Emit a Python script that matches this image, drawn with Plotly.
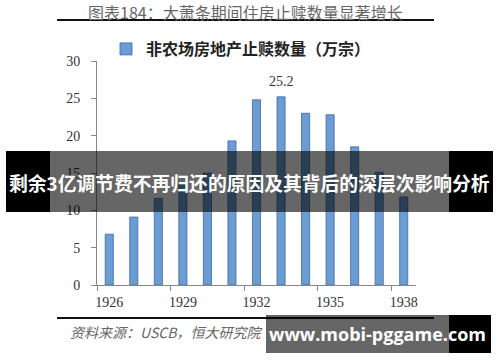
import plotly.graph_objects as go

# ---- data ----
years = [1926, 1927, 1928, 1929, 1930, 1931, 1932, 1933, 1934, 1935, 1936, 1937, 1938]
foreclosures = [6.8, 9.1, 11.6, 13.5, 15.0, 19.3, 24.8, 25.2, 23.0, 22.8, 18.5, 15.1, 11.8]
series_name = "非农场房地产止赎数量（万宗）"
title_text = "图表184：大萧条期间住房止赎数量显著增长"
source_text = "资料来源：USCB，恒大研究院"
banner_text = "剩余3亿调节费不再归还的原因及其背后的深层次影响分析"
watermark_text = "www.mobi-pggame.com"
label_ticks = years[::3]

# ---- layout geometry (pixels) ----
W, H = 500, 362
L, R, T, B = 97, 84, 61, 77
PW, PH = W - L - R, H - T - B


def px(x):
    return (x - L) / PW


def py(y):
    return (H - B - y) / PH


CJK = "Noto Sans CJK SC"
SERIF = "Liberation Serif"

fig = go.Figure()
fig.add_trace(go.Bar(
    x=years, y=foreclosures, name=series_name, width=0.33,
    marker=dict(color="#6b9dd3", line=dict(color="#3a6aa3", width=0.8)),
    showlegend=True,
))

imax = foreclosures.index(max(foreclosures))

shapes = [
    # title rule and bottom rule
    dict(type="line", xref="paper", yref="paper", x0=px(57), x1=px(434), y0=py(20), y1=py(20),
         line=dict(color="#111", width=2), layer="above"),
    dict(type="line", xref="paper", yref="paper", x0=px(57), x1=px(434), y0=py(318), y1=py(318),
         line=dict(color="#111", width=2), layer="above"),
    # banner overlay
    dict(type="rect", xref="paper", yref="paper", x0=px(6), x1=px(50), y0=py(212), y1=py(151),
         fillcolor="black", line=dict(width=0), layer="above"),
    dict(type="rect", xref="paper", yref="paper", x0=px(50), x1=px(449), y0=py(212), y1=py(151),
         fillcolor="rgba(0,0,0,0.6)", line=dict(width=0), layer="above"),
    dict(type="rect", xref="paper", yref="paper", x0=px(449), x1=px(493), y0=py(212), y1=py(151),
         fillcolor="black", line=dict(width=0), layer="above"),
    # watermark box
    dict(type="rect", xref="paper", yref="paper", x0=px(266), x1=px(449), y0=py(353), y1=py(315),
         fillcolor="rgba(0,0,0,0.6)", line=dict(width=0), layer="above"),
    dict(type="rect", xref="paper", yref="paper", x0=px(449), x1=px(491), y0=py(353), y1=py(315),
         fillcolor="black", line=dict(width=0), layer="above"),
]

annotations = [
    dict(text=title_text, xref="paper", yref="paper", x=px(245), y=py(12), showarrow=False,
         xanchor="center", yanchor="middle", font=dict(family=CJK, size=16, color="#666")),
    dict(text=f"{foreclosures[imax]}", x=years[imax], y=foreclosures[imax], xref="x", yref="y",
         showarrow=False, yanchor="bottom", yshift=6, font=dict(family=SERIF, size=14, color="#333")),
    dict(text=f"<i>{source_text}</i>", xref="paper", yref="paper", x=px(68), y=py(332), showarrow=False,
         xanchor="left", yanchor="middle", font=dict(family=CJK, size=14, color="#666")),
    dict(text=f"<b>{banner_text}</b>", xref="paper", yref="paper", x=px(249), y=py(182),
         showarrow=False, xanchor="center", yanchor="middle",
         font=dict(family=CJK, size=18.8, color="white")),
    dict(text=f"<b>{watermark_text}</b>", xref="paper", yref="paper", x=px(377), y=py(334),
         showarrow=False, xanchor="center", yanchor="middle",
         font=dict(family="Open Sans", size=18, color="white")),
]

fig.update_layout(
    width=W, height=H,
    margin=dict(l=L, r=R, t=T, b=B),
    paper_bgcolor="white", plot_bgcolor="white",
    shapes=shapes, annotations=annotations,
    showlegend=True,
    legend=dict(orientation="h", x=px(106), y=py(32), xanchor="left", yanchor="top",
                font=dict(family=CJK, size=16, color="#222", weight="bold"),
                bgcolor="rgba(0,0,0,0)", borderwidth=0),
    xaxis=dict(range=[years[0] - 0.5, years[-1] + 0.5], tickvals=label_ticks,
               ticks="", showline=True, linecolor="#888", linewidth=1, showgrid=False, zeroline=False,
               ticklabelstandoff=4,
               tickfont=dict(family=SERIF, size=14, color="#333"),
               minor=dict(tickvals=[y - 0.5 for y in label_ticks], ticks="outside", ticklen=5,
                          tickcolor="#888", showgrid=False)),
    yaxis=dict(range=[0, 30], dtick=5, ticks="outside", ticklen=5, tickcolor="#888",
               showline=True, linecolor="#888", linewidth=1, showgrid=False, zeroline=False,
               ticklabelstandoff=8, tickfont=dict(family=SERIF, size=14, color="#333")),
)

fig.write_html("out.html", config={"displayModeBar": False},
               post_script="document.body.style.margin='0';document.body.style.overflow='hidden';")
